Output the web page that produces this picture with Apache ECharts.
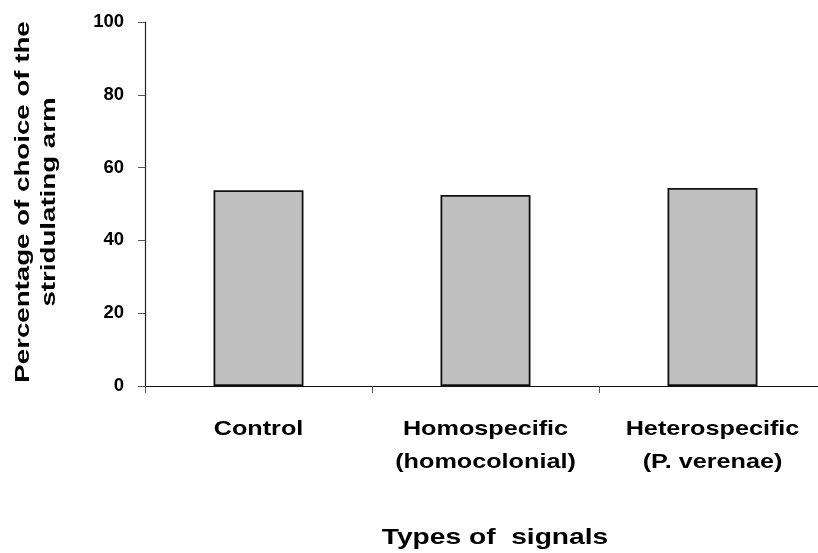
<!DOCTYPE html>
<html><head><meta charset="utf-8">
<script src="https://cdn.jsdelivr.net/npm/echarts@6/dist/echarts.min.js"></script>
<style>html,body{margin:0;padding:0;background:#fff}#c{width:818px;height:553px}</style>
</head><body><div id="c"></div>
<script>
const categories = ['Control', 'Homospecific\n(homocolonial)', 'Heterospecific\n(P. verenae)'];
const values = [53.8, 52.5, 54.4];
const yTicks = [0, 20, 40, 60, 80, 100];
const xTitle = 'Types of  signals';
const yTitle = 'Percentage of choice of the\nstridulating arm';

const font = 'Arial, "Liberation Sans", sans-serif';
const chart = echarts.init(document.getElementById('c'), null, {renderer: 'canvas'});
chart.setOption({
  animation: false,
  backgroundColor: '#fff',
  grid: {left: 145, top: 22, width: 681, height: 364, outerBoundsMode: 'none', containLabel: false},
  xAxis: {
    type: 'category',
    data: categories,
    boundaryGap: true,
    axisLine: {lineStyle: {color: '#111', width: 1.2}},
    axisTick: {show: true, length: 7, alignWithLabel: false, lineStyle: {color: '#555'}},
    axisLabel: {show: false},
    splitLine: {show: false}
  },
  yAxis: {
    type: 'value',
    min: yTicks[0], max: yTicks[yTicks.length - 1], interval: 20,
    axisLine: {show: true, lineStyle: {color: '#222', width: 1.2}},
    axisTick: {show: true, length: 7, lineStyle: {color: '#555'}},
    axisLabel: {margin: 21, color: '#000', fontFamily: font, fontWeight: 'bold', fontSize: 18.5},
    splitLine: {show: false}
  },
  series: [{
    type: 'bar',
    data: values,
    barWidth: 90,
    itemStyle: {color: '#c0c0c0', borderColor: '#111', borderWidth: 1.8},
    silent: true
  }]
});

// Category labels placed through the axis scale (horizontally widened like the original)
const graphics = [];
categories.forEach(function (cat) {
  const p = chart.convertToPixel({gridIndex: 0}, [cat, 0]);
  graphics.push({
    type: 'text', x: p[0], y: p[1] + 26.5, scaleX: 1.2,
    style: {text: cat, fill: '#000', font: 'bold 21px ' + font, align: 'center', verticalAlign: 'top', lineHeight: 33}
  });
});
graphics.push({
  type: 'text', x: 495, y: 527, scaleX: 1.31,
  style: {text: xTitle, fill: '#000', font: 'bold 21.5px ' + font, align: 'center', verticalAlign: 'top'}
});
graphics.push({
  type: 'text', rotation: Math.PI / 2, x: 10, y: 202, scaleX: 1.35,
  style: {text: yTitle, fill: '#000', font: 'bold 20.5px ' + font, align: 'center', verticalAlign: 'top', lineHeight: 26}
});
chart.setOption({graphic: graphics});
</script></body></html>
